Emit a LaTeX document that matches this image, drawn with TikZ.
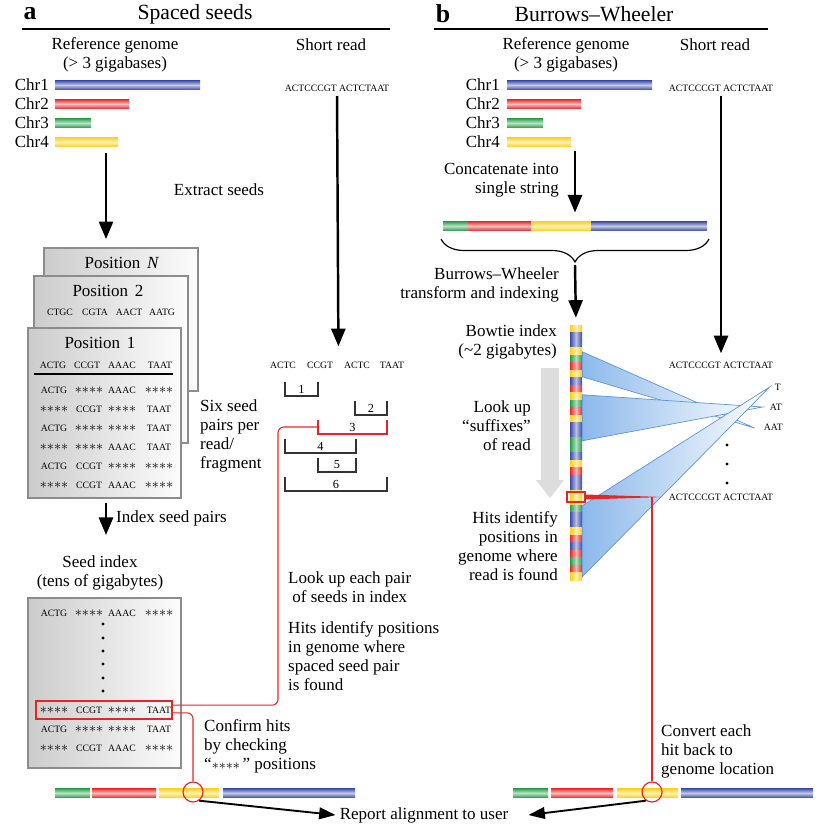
\documentclass[tikz,border=0pt]{standalone}
\usepackage{fontspec}
\setmainfont{Liberation Serif}
\usetikzlibrary{
  positioning,
  calc,
  arrows.meta,
  decorations.pathreplacing}
\definecolor{chrblue}{RGB}{58,76,170}
\definecolor{chrred}{RGB}{232,42,40}
\definecolor{chrgreen}{RGB}{38,158,72}
\definecolor{chryellow}{RGB}{255,208,24}
\definecolor{cardgray}{RGB}{204,204,204}
\definecolor{cardwhite}{RGB}{252,252,252}
\definecolor{cardline}{RGB}{140,140,140}
\definecolor{hitred}{RGB}{230,38,38}
\definecolor{fanblue}{RGB}{140,185,235}
\definecolor{fanline}{RGB}{95,148,218}
\definecolor{lookgray}{RGB}{221,221,221}
\newcommand{\seedstars}{{\fontsize{11.5}{11}\selectfont$\mathord{\ast}\mathord{\ast}\mathord{\ast}\mathord{\ast}$}}
%% chrbar : one striped chromosome bar {colour}{x from}{x to}{y}
\newcommand{\chrbar}[4]{%
  \shade [top color=#1, bottom color=#1, middle color=#1!30!white]
  (#2,#4-4.75) rectangle (#3,#4+4.75);}
\tikzset{
  %% panel : the panel letter
  panel/.style={
    font=\bfseries\fontsize{22}{22}\selectfont,
    inner sep=0pt
  },
  %% title : the panel title
  title/.style={
    font=\fontsize{18.5}{20}\selectfont,
    inner sep=0pt
  },
  %% label : running text
  label/.style={
    font=\fontsize{14.5}{16.2}\selectfont,
    inner sep=0pt
  },
  %% seq : bases of a read or a seed
  seq/.style={
    font=\fontsize{8.3}{9}\selectfont,
    inner sep=0pt
  },
  %% card : one shaded card of seeds
  card/.style={
    rectangle,
    draw=cardline,
    line width=1.1pt,
    left color=cardgray,
    right color=cardwhite
  },
  %% bigarrow : a step of the workflow
  bigarrow/.style={
    line width=2.1pt,
    -{Triangle[length=15pt, width=12pt]}
  },
  %% thinarrow : arrow to the report
  thinarrow/.style={
    line width=1.6pt,
    -{Triangle[length=14pt, width=10pt]}
  },
  %% hitline : red connection of a hit
  hitline/.style={hitred, line width=0.9pt, rounded corners=5pt},
  %% hitring : red ring on the genome
  hitring/.style={
    circle,
    draw=hitred,
    line width=1pt,
    minimum size=0.6cm,
    inner sep=0pt
  },
  %% seedbracket : one seed pair under the read
  seedbracket/.style={line width=0.9pt, black!80},
  %% fan : a range of the index matching a suffix
  fan/.style={
    left color=fanblue,
    right color=white,
    draw=fanline,
    line width=0.6pt
  }
}

\begin{document}
\begin{tikzpicture}
  [x=0.03cm,
  y=-0.03cm]
  \useasboundingbox (0,0) rectangle (837,828);

  %%% Panel a: spaced seeds
  \node (pa) [panel] at (30,14) {a};
  \node (ta) [title] at (195,14) {Spaced seeds};
  \draw [line width=1pt] (22,29) -- (390,29);

  \node (refa) [label, align=center] at (115,54.5) {%
    Reference genome\\(> 3 gigabases)};
  \node (shorta) [label] at (331,45) {Short read};

  %% Chromosomes
  \foreach \n/\c/\len/\y in {1/chrblue/200/85, 2/chrred/129/104,
    3/chrgreen/91/123, 4/chryellow/118/142}{
    \node (chra\n) [label, anchor=east] at (49,\y) {Chr\n};
    \chrbar{\c}{55}{\len}{\y}
  }

  \node (reada) [seq] at (337,88) {ACTCCCGT ACTCTAAT};

  %% Cards of seeds
  \node (cardN) [card, minimum width=4.62cm, minimum height=4.29cm]
  at (121,319.5) {};
  \node (card2) [card, minimum width=4.62cm, minimum height=5.01cm]
  at (111,359.5) {};
  \node (card1) [card, minimum width=4.59cm, minimum height=5.1cm]
  at (104.5,413) {};

  \node (posN) [label] at (122,263) {Position\hspace{0.4em}\textit{N}};
  \node (pos2) [label] at (108,291) {Position\hspace{0.4em}2};
  \foreach \s [count=\i] in {CTGC, CGTA, AACT, AATG}{
    \pgfmathsetmacro{\xs}{{60,95,129,162}[\i-1]}
    \node (card2-\i) [seq] at (\xs,312) {\s};
  }
  \node (pos1) [label] at (100,343) {Position\hspace{0.4em}1};
  \foreach \s/\xs [count=\i] in {ACTG/53, CCGT/87, AAAC/122, TAAT/160}{
    \node (card1-\i) [seq] at (\xs,365) {\s};
  }
  \draw [line width=0.9pt] (34,374) -- (173,374);
  \foreach \a/\b/\c/\d [count=\r from 0] in {
    ACTG/\seedstars/AAAC/\seedstars,
    \seedstars/CCGT/\seedstars/TAAT,
    ACTG/\seedstars/\seedstars/TAAT,
    \seedstars/\seedstars/AAAC/TAAT,
    ACTG/CCGT/\seedstars/\seedstars,
    \seedstars/CCGT/AAAC/\seedstars}{
    \node (pair\r-1) [seq] at (54,390+19*\r) {\a};
    \node (pair\r-2) [seq] at (89,390+19*\r) {\b};
    \node (pair\r-3) [seq] at (122,390+19*\r) {\c};
    \node (pair\r-4) [seq] at (159,390+19*\r) {\d};
  }

  \node (sixpairs) [label, align=left, anchor=west] at (200,435.5) {%
    Six seed\\pairs per\\read/\\fragment};

  %% Read split into four pieces
  \foreach \s/\xs [count=\i] in {ACTC/283, CCGT/320, ACTC/357, TAAT/392}{
    \node (split\i) [seq] at (\xs,365) {\s};
  }
  \foreach \xa/\xb/\yt/\n in {285/318/382/1, 355/387/401/2,
    285/356/439/4, 318/356/458/5, 285/387/477/6}{
    \draw [seedbracket] (\xa,\yt) -- (\xa,\yt+14) -- (\xb,\yt+14) -- (\xb,\yt);
    \node (bracket\n) [seq, font=\fontsize{10.5}{11}\selectfont]
    at ({(\xa+\xb)/2},\yt+7) {\n};
  }
  \draw [seedbracket, hitred] (318,420) -- (318,434) -- (387,434) -- (387,420);
  \node (bracket3) [seq, font=\fontsize{10.5}{11}\selectfont] at (352.5,427) {3};
  \coordinate (pair3 hit) at (318,427);

  %% Seed index
  \node (seedidx) [label, align=center] at (100,573) {%
    Seed index\\(tens of gigabytes)};
  \node (idxbox) [card, minimum width=4.59cm, minimum height=5.1cm]
  at (104.5,683) {};
  \foreach \a/\b/\c/\d/\y [count=\r] in {
    ACTG/\seedstars/AAAC/\seedstars/613,
    \seedstars/CCGT/\seedstars/TAAT/710,
    ACTG/\seedstars/\seedstars/TAAT/729,
    \seedstars/CCGT/AAAC/\seedstars/748}{
    \node (idx\r-1) [seq] at (54,\y) {\a};
    \node (idx\r-2) [seq] at (89,\y) {\b};
    \node (idx\r-3) [seq] at (122,\y) {\c};
    \node (idx\r-4) [seq] at (159,\y) {\d};
  }
  \foreach \y in {624,638,651,664,678,691}{
    \fill (103,\y) circle (1.4pt);
  }
  \node (hitbox) [draw=hitred, line width=1pt, minimum width=4.08cm,
  minimum height=0.54cm] at (104,710) {};

  \node (lookpair) [label, align=left, anchor=west] at (288,587) {%
    Look up each pair\\\hspace*{0.25em}of seeds in index};
  \node (hitsa) [label, align=left, anchor=west] at (288,656) {%
    Hits identify positions\\in genome where\\spaced seed pair\\is found};
  \node (confirm) [label, align=left, anchor=west] at (204,746) {%
    Confirm hits\\by checking\\``\seedstars\,'' positions};

  %% Genome of panel a
  \chrbar{chrgreen}{55}{90}{793}
  \chrbar{chrred}{92}{156}{793}
  \chrbar{chryellow}{159}{219}{793}
  \chrbar{chrblue}{223}{355}{793}
  \node (hitl) [hitring] at (193,792) {};

  %% Workflow arrows of panel a
  \coordinate (extract) at (106,153);
  \draw [bigarrow, shorten >=7pt] (extract) -- (extract |- cardN.north);
  \node (extractlab) [label] at (219,190) {Extract seeds};
  \coordinate (index) at (106,503);
  \draw [bigarrow] (index) -- ++(0,32);
  \node (indexlab) [label, anchor=west] at (116,518) {Index seed pairs};
  \draw [bigarrow, shorten <=4pt, shorten >=13pt] (reada.south)
  -- ($(split2.north)!0.5!(split3.north)$);

  %% Hit connections of panel a
  \draw [hitline] ($(hitbox.north east)!0.25!(hitbox.south east)$)
  -| (278,560) |- (pair3 hit);
  \draw [hitline] ($(hitbox.north east)!0.65!(hitbox.south east)$)
  -| (hitl.north);

  %%% Panel b: Burrows-Wheeler
  \node (pb) [panel] at (443,14) {b};
  \node (tb) [title] at (594,14) {Burrows--Wheeler};
  \draw [line width=1pt] (434,29) -- (768,29);

  \node (refb) [label, align=center] at (566,54.5) {%
    Reference genome\\(> 3 gigabases)};
  \node (shortb) [label] at (715,45) {Short read};

  \foreach \n/\c/\len/\y in {1/chrblue/652/85, 2/chrred/581/104,
    3/chrgreen/543/123, 4/chryellow/571/142}{
    \node (chrb\n) [label, anchor=east] at (500,\y) {Chr\n};
    \chrbar{\c}{507}{\len}{\y}
  }
  \node (readb) [seq] at (721,88) {ACTCCCGT ACTCTAAT};

  %% Concatenated genome
  \node (concat) [minimum width=7.92cm, minimum height=0.3cm, inner sep=0pt]
  at (575,226) {};
  \chrbar{chrgreen}{443}{468}{226}
  \chrbar{chrred}{468}{531}{226}
  \chrbar{chryellow}{531}{591}{226}
  \chrbar{chrblue}{591}{707}{226}
  \coordinate (concatenate) at (575,151);
  \draw [bigarrow, shorten >=7pt] (concatenate) -- (concat.north);
  \node (catlab) [label, align=right, anchor=east] at (559,180.5) {%
    Concatenate into\\single string};
  \draw [line width=1pt, decorate, decoration={brace, mirror, amplitude=0.69cm}]
  (441,239) -- (709,239);

  %% Bowtie index
  \node (bowtie) [minimum width=0.36cm, minimum height=7.65cm, inner sep=0pt]
  at (576,452.5) {};
  \foreach \c [count=\i from 0] in {chryellow, chrblue, chrblue, chryellow,
    chrgreen, chrred, chryellow, chrblue, chrred, chryellow, chrgreen,
    chrred, chryellow, chrblue, chrblue, chrgreen, chrgreen, chrblue,
    chryellow, chrred, chrblue, chrblue, chryellow, chryellow, chrgreen,
    chrblue, chrblue, chryellow, chrred, chrblue, chrred, chrgreen,
    chrred, chryellow}{
    \shade [left color=\c, right color=\c, middle color=\c!35!white]
    (570,325+7.5*\i) rectangle (582,332.5+7.5*\i);
  }
  \coordinate (transform) at (575,265);
  \draw [bigarrow, shorten >=6pt] (transform) -- (bowtie.north);
  \node (bwlab) [label, align=right, anchor=east] at (559,284.5) {%
    Burrows--Wheeler\\transform and indexing};
  \node (bowtielab) [label, align=right, anchor=east] at (557,342) {%
    Bowtie index\\(\textasciitilde 2 gigabytes)};

  %% Look up suffixes
  \fill [lookgray] (541,368) -- (559,368) -- (559,480) -- (564,480)
  -- (550,498) -- (536,480) -- (541,480) -- cycle;
  \node (lookup) [label, align=right, anchor=east] at (531,426) {%
    Look up\\``suffixes''\\of read};
  \node (hitsb) [label, align=right, anchor=east] at (558,546) {%
    Hits identify\\positions in\\genome where\\read is found};

  \node (readc) [seq] at (721,365) {ACTCCCGT ACTCTAAT};
  \node (sufT) [seq, anchor=east] at (781,387) {T};
  \node (sufAT) [seq, anchor=east] at (782,407) {AT};
  \node (sufAAT) [seq, anchor=east] at (783,427) {AAT};
  \foreach \y in {445,464,483}{
    \fill (727,\y) circle (1.4pt);
  }
  \node (readd) [seq] at (721,497) {ACTCCCGT ACTCTAAT};
  \draw [bigarrow, shorten <=4pt, shorten >=7pt] (readb.south) -- (readc.north);

  %% Suffix ranges
  \path [fan] ($(bowtie.north east)+(0,27)$) -- ($(bowtie.north east)+(0,52)$)
  -- ($(sufAAT.west)+(-9,1)$) -- cycle;
  \path [fan] ($(bowtie.north east)+(0,70)$) -- ($(bowtie.north east)+(0,116)$)
  -- ($(sufAT.west)+(-7,0)$) -- cycle;
  \path [fan] ($(bowtie.north east)+(0,181)$) -- ($(bowtie.north east)+(0,252)$)
  -- ($(sufT.west)+(-5,0)$) -- cycle;

  %% Hit of panel b
  \node (colhit) [draw=hitred, line width=1pt, minimum width=0.54cm,
  minimum height=0.3cm, inner sep=0pt] at (576,497) {};
  \fill [hitred] ($(colhit.east)+(0,-2.5)$) -- ($(readd.west)+(-5,0)$)
  -- ($(colhit.east)+(0,2.5)$) -- cycle;

  %% Genome of panel b
  \chrbar{chrgreen}{513}{548}{793}
  \chrbar{chrred}{551}{613}{793}
  \chrbar{chryellow}{617}{678}{793}
  \chrbar{chrblue}{681}{813}{793}
  \node (hitr) [hitring] at (652,792) {};
  \draw [hitred, line width=0.9pt] (hitr.north) -- (hitr.north |- colhit.east);
  \node (convert) [label, align=left, anchor=west] at (661,751) {%
    Convert each\\hit back to\\genome location};

  %% Report
  \node (report) [label] at (424,815) {Report alignment to user};
  \draw [thinarrow] (hitl.-55) -- ($(report.west)+(-4,0)$);
  \draw [thinarrow] (hitr.-125) -- ($(report.east)+(20,0)$);

\end{tikzpicture}
\end{document}
